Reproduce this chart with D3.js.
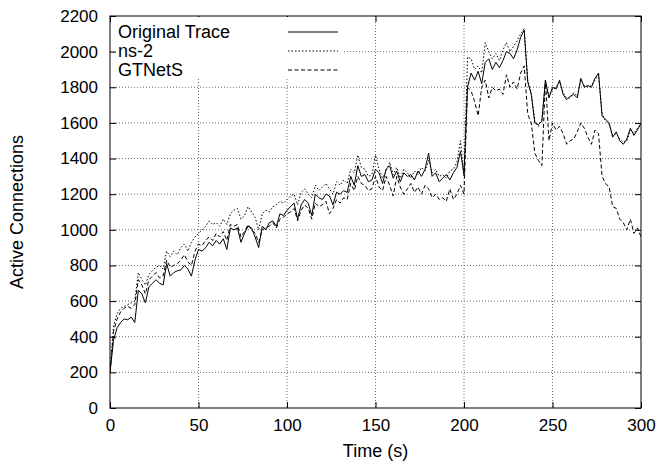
<!DOCTYPE html>
<html>
<head>
<meta charset="utf-8">
<script src="https://cdn.jsdelivr.net/npm/d3@7"></script>
<style>
  body { margin: 0; background: #fff; }
  text { font-family: "Liberation Sans", Arial, sans-serif; }
</style>
</head>
<body>
<div id="chart"></div>
<script>
// sample times (s), one point every 2 s
const times = d3.range(0, 301, 2);

const originalTrace = [
  200, 380, 450, 480, 500, 495, 510, 480, 660, 640, 590, 680, 700, 720, 700, 690,
  810, 740, 760, 770, 775, 800, 780, 740, 830, 890, 880, 900, 930, 910, 940, 920,
  950, 890, 1010, 1000, 1010, 930, 980, 1020, 1010, 960, 900, 1020, 1000, 1040, 1050, 1020,
  1090, 1080, 1110, 1130, 1150, 1060, 1140, 1170, 1150, 1080, 1200, 1180, 1170, 1200, 1190, 1140,
  1210, 1200, 1220, 1210, 1300, 1250, 1360, 1300, 1310, 1270, 1280, 1340, 1320, 1260, 1340, 1360,
  1290, 1330, 1270, 1320, 1300, 1310, 1280, 1330, 1300, 1340, 1430, 1300, 1320, 1270, 1290, 1310,
  1280, 1320, 1350, 1440, 1310, 1800, 1880, 1840, 1890, 1820, 1940, 1960, 1900, 1940, 1910, 1950,
  2000, 1990, 1960, 2010, 2080, 2120, 1830, 1760, 1600, 1590, 1610, 1840, 1740, 1800, 1790, 1840,
  1760, 1730, 1750, 1760, 1740, 1850, 1800, 1810, 1800, 1850, 1880, 1640, 1620, 1600, 1520, 1550,
  1500, 1480, 1510, 1570, 1530, 1560, 1600
];

const ns2 = [
  200, 460, 530, 560, 570, 580, 590, 600, 760, 720, 690, 750, 770, 790, 800, 780,
  880, 850, 880, 860, 900, 920, 880, 930, 960, 980, 1000, 1020, 1050, 1030, 1040, 1020,
  1060, 1030, 1090, 1110, 1120, 1060, 1080, 1130, 1100, 1070, 1000, 1090, 1110, 1100, 1130, 1140,
  1160, 1150, 1170, 1190, 1200, 1140, 1210, 1230, 1200, 1180, 1250, 1220, 1240, 1260, 1230, 1200,
  1270, 1250, 1280, 1260, 1340, 1320, 1420, 1350, 1340, 1300, 1310, 1420, 1340, 1290, 1330, 1380,
  1310, 1350, 1290, 1340, 1320, 1290, 1330, 1310, 1350, 1330, 1390, 1320, 1340, 1300, 1310, 1290,
  1330, 1340, 1380, 1500, 1300, 1970, 1960, 1900, 1920, 1880, 2050, 2000, 1960, 1990, 1950, 2010,
  2050, 2000, 2030, 2060, 2100, 2130, 1840, 1770, 1610, 1580, 1620, 1830, 1750, 1790, 1800, 1830,
  1770, 1740, 1740, 1770, 1750, 1840, 1810, 1800, 1810, 1840, 1870, 1650, 1610, 1590, 1530, 1540,
  1510, 1490, 1500, 1560, 1540, 1570, 1590
];

const gtnets = [
  200, 430, 500, 540, 560, 570, 560, 580, 720, 690, 640, 720, 740, 760, 730, 740,
  830, 790, 800, 810, 830, 860, 820, 800, 880, 920, 910, 940, 960, 940, 980, 960,
  990, 940, 1030, 1020, 1030, 960, 990, 1030, 1000, 980, 930, 1000, 1010, 1020, 1040, 1010,
  1060, 1070, 1090, 1100, 1120, 1050, 1110, 1140, 1120, 1060, 1150, 1130, 1140, 1160, 1090, 1120,
  1170, 1150, 1180, 1170, 1260, 1220, 1300, 1260, 1250, 1220, 1230, 1300, 1240, 1220, 1300, 1250,
  1190, 1300, 1240, 1200, 1230, 1260, 1210, 1240, 1200, 1250, 1230, 1180, 1200, 1170, 1180, 1160,
  1230, 1170, 1200, 1250, 1200, 1800, 1780, 1720, 1640, 1800, 1840, 1740, 1800, 1780, 1790, 1760,
  1870, 1800, 1830, 1790, 1880, 1920, 1650, 1600, 1430, 1390, 1360, 1840, 1500, 1600, 1560, 1580,
  1540, 1480, 1500, 1510, 1550, 1600, 1570, 1520, 1480, 1560, 1540, 1300, 1260, 1240, 1130, 1120,
  1060, 1040, 1000, 1060, 980, 1010, 960
];

const seriesNames = ["Original Trace", "ns-2", "GTNetS"];
const dashStyles = [null, "1.5,2", "4,2.5"];
const xTicks = [0, 50, 100, 150, 200, 250, 300];
const yTicks = d3.range(0, 2201, 200);

const margin = {top: 16, right: 31, bottom: 58, left: 110},
      width = 672 - margin.left - margin.right,
      height = 466 - margin.top - margin.bottom;

const svg = d3.select("#chart").append("svg")
    .attr("width", 672)
    .attr("height", 466)
  .append("g")
    .attr("transform", `translate(${margin.left},${margin.top})`);

const x = d3.scaleLinear().domain([0, 300]).range([0, width]);
const y = d3.scaleLinear().domain([0, 2200]).range([height, 0]);

// grid
svg.append("g")
  .selectAll("line")
  .data(xTicks.slice(1, -1))
  .join("line")
    .attr("x1", d => x(d)).attr("x2", d => x(d))
    .attr("y1", 0).attr("y2", height)
    .attr("stroke", "#444").attr("stroke-width", 0.8)
    .attr("stroke-dasharray", "1,2");
svg.append("g")
  .selectAll("line")
  .data(yTicks.slice(1, -1))
  .join("line")
    .attr("x1", 0).attr("x2", width)
    .attr("y1", d => y(d)).attr("y2", d => y(d))
    .attr("stroke", "#444").attr("stroke-width", 0.8)
    .attr("stroke-dasharray", "1,2");

// axes with inward ticks, mirrored on top/right
const fs = "17px";
svg.append("g")
  .attr("transform", `translate(0,${height})`)
  .call(d3.axisBottom(x).tickValues(xTicks).tickSize(-6).tickPadding(11).tickFormat(d3.format("d")))
  .call(g => g.select(".domain").remove())
  .call(g => g.selectAll("text").attr("font-size", fs).attr("fill", "#000"));
svg.append("g")
  .call(d3.axisTop(x).tickValues(xTicks).tickSize(-6).tickFormat(""))
  .call(g => g.select(".domain").remove());
svg.append("g")
  .call(d3.axisLeft(y).tickValues(yTicks).tickSize(-6).tickPadding(12).tickFormat(d3.format("d")))
  .call(g => g.select(".domain").remove())
  .call(g => g.selectAll("text").attr("font-size", fs).attr("fill", "#000"));
svg.append("g")
  .attr("transform", `translate(${width},0)`)
  .call(d3.axisRight(y).tickValues(yTicks).tickSize(-6).tickFormat(""))
  .call(g => g.select(".domain").remove());

svg.append("defs").append("clipPath").attr("id", "clip")
  .append("rect").attr("width", width).attr("height", height);

// series
const allSeries = [originalTrace, ns2, gtnets];
const line = d3.line()
  .x((d, i) => x(times[i]))
  .y(d => y(d));

allSeries.forEach((vals, k) => {
  svg.append("path")
    .datum(vals)
    .attr("clip-path", "url(#clip)")
    .attr("fill", "none")
    .attr("stroke", "#000")
    .attr("stroke-width", 1)
    .attr("stroke-dasharray", dashStyles[k])
    .attr("d", line);
});

// legend
const legend = svg.append("g").attr("transform", "translate(6,1)");
legend.append("rect")
  .attr("width", 226).attr("height", 61)
  .attr("fill", "#fff");
seriesNames.forEach((name, k) => {
  const yy = 15 + k * 19;
  legend.append("text")
    .attr("x", 2).attr("y", yy + 6)
    .attr("font-size", "18px")
    .text(name);
  legend.append("line")
    .attr("x1", 172).attr("x2", 222)
    .attr("y1", yy).attr("y2", yy)
    .attr("stroke", "#000").attr("stroke-width", 1)
    .attr("stroke-dasharray", dashStyles[k]);
});

// frame
svg.append("rect")
  .attr("width", width).attr("height", height)
  .attr("fill", "none").attr("stroke", "#000").attr("stroke-width", 1);

// axis titles
svg.append("text")
  .attr("x", width / 2).attr("y", height + 49)
  .attr("text-anchor", "middle")
  .attr("font-size", "18px")
  .text("Time (s)");
svg.append("text")
  .attr("transform", `translate(${-87},${height / 2}) rotate(-90)`)
  .attr("text-anchor", "middle")
  .attr("font-size", "18px")
  .text("Active Connections");
</script>
</body>
</html>
